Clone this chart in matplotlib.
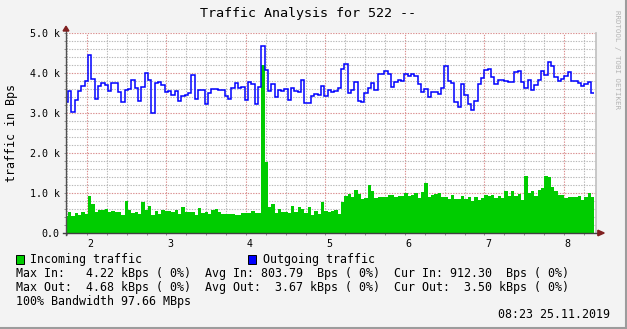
import matplotlib
matplotlib.use("Agg")
import matplotlib.pyplot as plt
import matplotlib.transforms as mtransforms
from matplotlib.patches import Polygon, Rectangle
from matplotlib.lines import Line2D
import numpy as np

plt.rcParams["font.family"] = ["DejaVu Sans Mono", "DejaVu Sans"]

TITLE = "Traffic Analysis for 522 --"
Y_LABEL = "traffic in Bps"
WATERMARK = "RRDTOOL / TOBI OETIKER"
X_TICKS = [2, 3, 4, 5, 6, 7, 8]
Y_TICKS = [0, 1000, 2000, 3000, 4000, 5000]
Y_TICK_LABELS = ["0.0", "1.0 k", "2.0 k", "3.0 k", "4.0 k", "5.0 k"]

LEGEND_IN = "Incoming traffic"
LEGEND_OUT = "Outgoing traffic"
STATS = [
    "Max In:   4.22 kBps ( 0%)  Avg In: 803.79  Bps ( 0%)  Cur In: 912.30  Bps ( 0%)",
    "Max Out:  4.68 kBps ( 0%)  Avg Out:  3.67 kBps ( 0%)  Cur Out:  3.50 kBps ( 0%)",
    "100% Bandwidth 97.66 MBps",
]
STAMP = "08:23 25.11.2019"

# samples every ~2.5 min, time axis in hours
T_START = 1.7191
T_STEP = 0.0419
X_MIN, X_MAX = 1.736, 8.403

# incoming traffic, Bps
INCOMING = [
    425, 525, 425, 500, 458, 525, 475, 925, 725, 525,
    575, 575, 600, 533, 550, 525, 525, 450, 800, 575,
    500, 525, 475, 775, 575, 675, 450, 550, 475, 575,
    550, 550, 525, 575, 475, 650, 525, 525, 525, 450,
    625, 500, 525, 475, 575, 600, 525, 475, 475, 475,
    475, 458, 458, 500, 500,
    500, 550, 500, 500, 4200, 1775, 650, 725, 500, 600,
    525, 525, 508, 675, 525, 650, 600, 500, 650, 450,
    550, 475, 775, 550, 525, 550, 575, 475, 775, 925,
    975, 900, 1075, 975, 850, 875, 1200, 1050, 875, 900,
    900, 900, 950, 950, 900, 925, 925, 1000, 925, 950,
    1000, 875, 1025, 1250,
    900, 950, 975, 1000, 900, 900, 850, 950, 850, 850,
    925, 850, 900, 800, 900, 825, 875, 950, 925, 950,
    875, 925, 875, 1050, 925, 1050, 925, 975, 825, 1425,
    1000, 1050, 925, 1075, 1125, 1425, 1400, 1150, 1050, 950,
    950, 875, 900, 900, 900, 925, 825, 900, 1000, 912,
]

# outgoing traffic, Bps
OUTGOING = [
    3283,
    3558, 3025, 3317, 3558, 3675, 3792, 4442, 3842, 3342, 3675,
    3742, 3692, 3542, 3742, 3758, 3517, 3267, 3567, 3608, 3817,
    3633, 3292, 3642, 3992, 3817, 3000, 3742, 3767, 3692, 3517,
    3542, 3442, 3542, 3292, 3417, 3442, 3492, 3942, 3358, 3567,
    3567, 3217, 3492, 3592, 3592, 3567, 3567, 3417, 3342, 3617,
    3742, 3617, 3642, 3317,
    3767, 3717, 3217, 3642, 4667, 4067, 3542, 3717, 3392, 3567,
    3542, 3592, 3317, 3617, 3542, 3517, 3817, 3242, 3242, 3417,
    3467, 3442, 3667, 3417, 3567, 3517, 3542, 3617, 4092, 4217,
    3492, 3567, 3767, 3292, 3267, 3492, 3617, 3742, 3567, 3967,
    3967, 4042, 3967, 3642, 3767, 3817, 3792, 3967, 3917, 3967,
    3917, 3717, 3517, 3592,
    3392, 3517, 3517, 3467, 3617, 4167, 3792, 3742, 3267, 3142,
    3717, 3442, 3217, 3067, 3292, 3717, 3867, 4067, 4092, 3892,
    3717, 3817, 3817, 3792, 3767, 3767, 4017, 4042, 3767, 3617,
    3817, 3567, 3692, 3817, 4042, 3942, 4267, 4167, 3892, 3792,
    3842, 3917, 4017, 3792, 3792, 3742, 3667, 3717, 3767, 3500,
]

W, H = 627, 329


def fpos(x, y):
    # pixel position (from top left) -> figure fraction
    return x / W, 1 - y / H


fig = plt.figure(figsize=(W / 100, H / 100), dpi=100, facecolor="#f3f3f3")
ax = fig.add_axes([66 / W, (H - 233) / H, 530 / W, 200 / H])
ax.set_facecolor("white")

edges = T_START + T_STEP * np.arange(len(INCOMING) + 1)
ax.stairs(INCOMING, edges, fill=True, color="#00cc00", lw=0)
ax.stairs(OUTGOING, edges, baseline=None, color="#0000ff", lw=1.1)

ax.set_xlim(X_MIN, X_MAX)
ax.set_ylim(0, 5000)
ax.set_xticks(X_TICKS)
ax.set_xticks([v for v in np.arange(1.75, 8.5, 0.25) if v % 1 != 0], minor=True)
ax.set_yticks(Y_TICKS)
ax.set_yticklabels(Y_TICK_LABELS)
ax.set_yticks([v for v in range(0, 5001, 200) if v % 1000 != 0], minor=True)

ax.set_axisbelow(True)
ax.grid(which="minor", color="#b8b8b8", lw=0.8, linestyle=(0, (1.2, 1.2)))
ax.grid(which="major", color="#d98c8c", lw=0.8, linestyle=(0, (1.2, 1.2)))

for s in ax.spines.values():
    s.set_visible(False)
ax.tick_params(which="both", direction="out", length=1.5, width=0.7,
               color="#909090", labelsize=7.2, labelcolor="black")
ax.tick_params(axis="x", pad=2.5)
ax.tick_params(axis="y", pad=3)

offset = mtransforms.ScaledTranslation(3.5 / 100, 0, fig.dpi_scale_trans)
for lab in ax.get_xticklabels():
    lab.set_transform(lab.get_transform() + offset)

# right edge line
ax.plot([1, 1], [0, 1], transform=ax.transAxes, color="#c4c4c4", lw=1.3,
        clip_on=False, zorder=5)

# axes with arrows
ax.plot([0, 0], [-0.01, 1.012], transform=ax.transAxes, color="#505050",
        lw=1.0, clip_on=False, zorder=6)
ax.plot([-0.006, 1.005], [0, 0], transform=ax.transAxes, color="#404040",
        lw=1.0, clip_on=False, zorder=6)
ax.add_patch(Polygon([[-0.0055, 1.01], [0.0055, 1.01], [0, 1.034]],
                     closed=True, transform=ax.transAxes, color="#802020",
                     clip_on=False, zorder=7))
ax.add_patch(Polygon([[1.0035, -0.014], [1.0035, 0.014], [1.0155, 0]],
                     closed=True, transform=ax.transAxes, color="#802020",
                     clip_on=False, zorder=7))

# texts
x, y = fpos(308, 13)
fig.text(x, y, TITLE, fontsize=9.6, ha="center", va="center")
x, y = fpos(12, 133)
fig.text(x, y, Y_LABEL, fontsize=8.35, rotation=90, ha="center", va="center")
x, y = fpos(617, 59)
fig.text(x, y, WATERMARK, fontsize=5.3, rotation=270, ha="center",
         va="center", color="#b4b4b4")

for bx, col in [(16, "#00cc00"), (248, "#0000ff")]:
    x0, y0 = fpos(bx, 264)
    fig.add_artist(Rectangle((x0, y0), 8 / W, 9 / H, facecolor=col,
                             edgecolor="black", lw=0.7,
                             transform=fig.transFigure))
x, y = fpos(30, 259)
fig.text(x, y, LEGEND_IN, fontsize=8.35, ha="left", va="center")
x, y = fpos(263, 259)
fig.text(x, y, LEGEND_OUT, fontsize=8.35, ha="left", va="center")
for i, line in enumerate(STATS):
    x, y = fpos(16, 273 + 14 * i)
    fig.text(x, y, line, fontsize=8.35, ha="left", va="center")
x, y = fpos(610, 315)
fig.text(x, y, STAMP, fontsize=8.35, ha="right", va="center")

# image frame
fig.add_artist(Line2D([0, 1], [1 / H, 1 / H], color="#9c9c9c", lw=1.5,
                      transform=fig.transFigure))
fig.add_artist(Line2D([1 - 1 / W, 1 - 1 / W], [0, 1], color="#9c9c9c", lw=1.5,
                      transform=fig.transFigure))

fig.savefig("out.png", dpi=100, facecolor=fig.get_facecolor())
